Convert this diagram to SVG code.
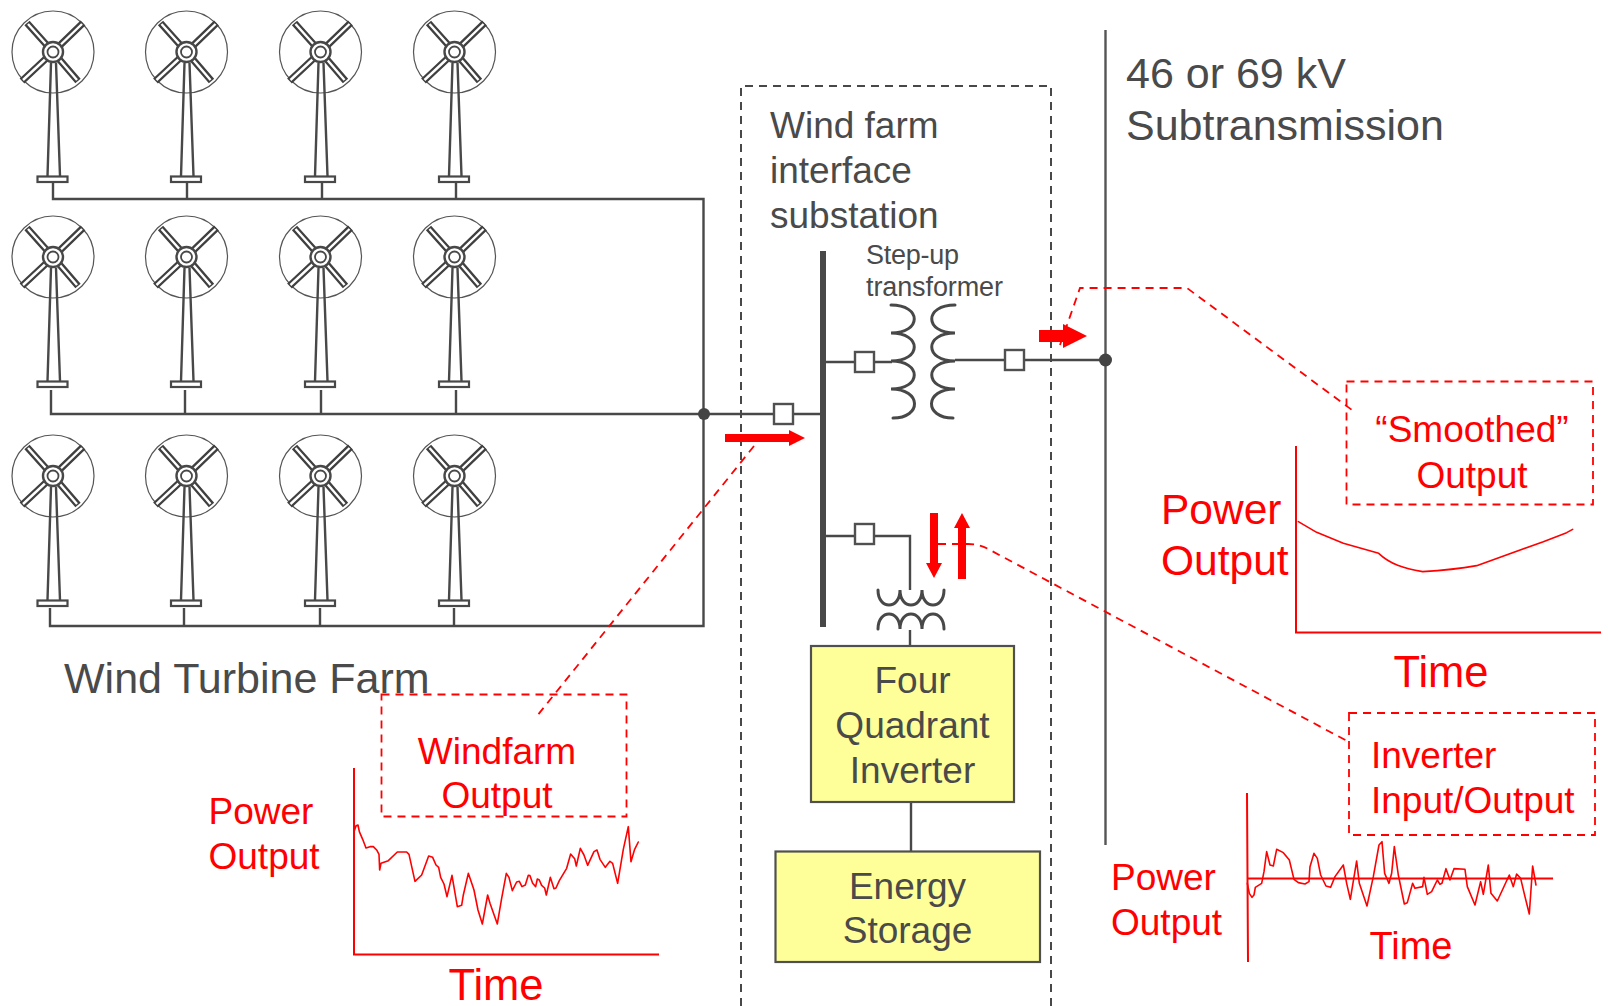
<svg xmlns="http://www.w3.org/2000/svg" width="1608" height="1006" viewBox="0 0 1608 1006">
<style>
text{font-family:"Liberation Sans",Arial,sans-serif}
.d{fill:#4a4a4a}.r{fill:#f00}
.s43{font-size:43px}.s42{font-size:42.500px}.s37{font-size:37px}.s38{font-size:38px}.s27{font-size:27px}.s44{font-size:43.500px}
.m{text-anchor:middle}
.w{fill:none;stroke:#484848;stroke-width:2.400}
.c{fill:none;stroke:#484848;stroke-width:3;stroke-linecap:round}
.b{fill:#fff;stroke:#505050;stroke-width:2.400}
.y{fill:#ffff99;stroke:#505050;stroke-width:2.200}
.rd{fill:none;stroke:#f00;stroke-width:1.800;stroke-dasharray:8 6}
.rl{fill:none;stroke:#f00;stroke-width:2}
.rs{fill:none;stroke:#f00;stroke-width:4.800;stroke-linejoin:round;stroke-linecap:round}
.ra{fill:#f00}
.bo{fill:none;stroke:#404040;stroke-width:7}
.bi{fill:none;stroke:#fff;stroke-width:2.400}
</style>
<defs>
<g id="t">
<circle cx="53" cy="52" r="41" fill="#fff" stroke="#555" stroke-width="1.200"/>
<path class="bo" d="M53 52L27 23M53 52L83 23M53 52L22 81M53 52L78 81"/>
<path class="bi" d="M28 24L53 52M82 24L53 52M23 80L53 52M77 80L53 52"/>
<circle cx="53" cy="52" r="10" fill="#fff" stroke="#484848" stroke-width="2.400"/>
<circle cx="53" cy="52" r="5.500" fill="#fff" stroke="#484848" stroke-width="1.800"/>
<path class="w" d="M51 63L47.500 176M56 63L60 176"/>
<rect x="37.500" y="176.500" width="30" height="5.500" fill="#fff" stroke="#484848" stroke-width="2.200"/>
</g>
</defs>
<g id="connectors">
<path class="w" d="M53 182V199H703.500V626H50V608M187 182V199M322 182V199M456 182V199"/>
<path class="w" d="M51 390V414H823M185 390V414M321 390V414M456 390V414"/>
<path class="w" d="M184 608V626M320 608V626M454 608V626"/>
<path class="w" d="M823 362H892"/>
<path class="w" d="M955 360H1106"/>
<path class="w" d="M823 536H910V590"/>
<path class="w" d="M910 630V646M911 802V851"/>
<path fill="none" stroke="#555" stroke-width="2.400" d="M1105.500 30V845"/>
<circle cx="704" cy="414" r="6" fill="#444"/>
<circle cx="1105.500" cy="360" r="6.500" fill="#444"/>
<path fill="none" stroke="#484848" stroke-width="2" stroke-dasharray="8 6" d="M741 1006V86H1051V1006"/>
<rect x="820" y="251" width="6" height="376" fill="#484848"/>
</g>
<g id="turbines">
<g id="turbine-1-1"><use href="#t"/></g>
<g id="turbine-1-2"><use href="#t" x="133.500"/></g>
<g id="turbine-1-3"><use href="#t" x="267.500"/></g>
<g id="turbine-1-4"><use href="#t" x="401.500"/></g>
<g id="turbine-2-1"><use href="#t" y="205"/></g>
<g id="turbine-2-2"><use href="#t" x="133.500" y="205"/></g>
<g id="turbine-2-3"><use href="#t" x="267.500" y="205"/></g>
<g id="turbine-2-4"><use href="#t" x="401.500" y="205"/></g>
<g id="turbine-3-1"><use href="#t" y="424"/></g>
<g id="turbine-3-2"><use href="#t" x="133.500" y="424"/></g>
<g id="turbine-3-3"><use href="#t" x="267.500" y="424"/></g>
<g id="turbine-3-4"><use href="#t" x="401.500" y="424"/></g>
</g>
<g id="breakers">
<rect class="b" x="774" y="404" width="19" height="20"/>
<rect class="b" x="855" y="352" width="19" height="20"/>
<rect class="b" x="1005" y="350" width="19" height="20"/>
<rect class="b" x="855" y="524" width="19" height="20"/>
</g>
<g id="step-up-transformer">
<path class="c" d="M891 305C922 305 922 333 891 333C922 333 922 361 891 361C922 361 922 389 891 389C922 389 922 418 893 418"/>
<path class="c" d="M955 305C924 305 924 333 955 333C924 333 924 361 955 361C924 361 924 389 955 389C924 389 924 418 953 418"/>
</g>
<g id="inverter-transformer">
<path class="c" d="M878 590C878 610 900 610 900 590C900 610 922 610 922 590C922 610 944 610 944 590"/>
<path class="c" d="M878 629C878 609 900 609 900 629C900 609 922 609 922 629C922 609 944 609 944 629"/>
</g>
<g id="inverter"><rect class="y" x="811" y="646" width="203" height="156"/>
<text class="d s37 m" x="912.500" y="693">Four</text><text class="d s37 m" x="912.500" y="738">Quadrant</text><text class="d s37 m" x="912.500" y="783">Inverter</text></g>
<g id="storage"><rect class="y" x="775.500" y="851.500" width="264.500" height="110.500"/>
<text class="d s37 m" x="907.500" y="899">Energy</text><text class="d s37 m" x="907.500" y="943">Storage</text></g>
<g id="labels">
<text class="d s43" x="64" y="693">Wind Turbine Farm</text>
<text class="d s43" x="1126" y="88">46 or 69 kV</text>
<text class="d s43" x="1126" y="140">Subtransmission</text>
<text class="d s37" x="770" y="138">Wind farm</text>
<text class="d s37" x="770" y="183">interface</text>
<text class="d s37" x="770" y="228">substation</text>
<text class="d s27" x="866" y="264" textLength="93">Step-up</text>
<text class="d s27" x="866" y="296" textLength="137">transformer</text>
</g>
<g id="callouts">
<path class="rd" d="M1060 345L1080 288H1187L1352 410"/>
<path class="rd" d="M938 544H968Q980 544 990 550L1349 742"/>
<path class="rd" d="M754 446L537 716"/>
<path class="ra" d="M1039 330H1063V324L1087 336L1063 348V342H1039Z"/>
<path class="ra" d="M725 434H789V430L805 438L789 446V442H725Z"/>
<path class="ra" d="M930 513H938V563H942L934 578L926 563H930Z"/>
<path class="ra" d="M958 579H966V528H970L962 513L954 528H958Z"/>
<rect class="rd" x="1346.500" y="381.500" width="246.500" height="123"/>
<rect class="rd" x="1349" y="713" width="246" height="122"/>
<rect class="rd" x="381.500" y="694.500" width="245" height="122"/>
</g>
<g id="chart-windfarm">
<path class="rl" d="M354 768V954.500H659"/>
<polyline class="rs" transform="translate(340 760) scale(.3333)" points="42,215 48,197 54,195 58,215 68,238 78,264 90,260 100,260 110,270 117,283 119,330 123,310 145,302 172,276 200,276 207,283 225,364 245,345 266,288 278,292 288,315 296,322 302,352 312,372 321,410 336,346 352,440 365,436 370,405 385,340 396,372 402,390 414,450 427,492 443,405 450,430 472,492 485,415 499,340 507,352 517,392 530,366 538,364 546,380 556,375 565,346 570,347 578,370 587,380 592,357 598,360 605,376 614,384 619,405 631,352 642,386 648,384 658,362 680,325 692,282 704,296 709,318 721,265 732,285 743,316 762,275 771,270 780,298 796,322 810,304 818,310 833,370 850,268 865,200 873,305 884,268 895,246"/>
<text class="r s37 m" x="497" y="764">Windfarm</text><text class="r s37 m" x="497" y="808">Output</text>
<text class="r s37" x="208.500" y="824">Power</text><text class="r s37" x="208.500" y="869">Output</text>
<text class="r s44 m" x="496" y="1000">Time</text>
</g>
<g id="chart-smoothed">
<path class="rl" d="M1296 446V632.500H1601"/>
<path class="rs" transform="translate(1280 500) scale(.3333)" d="M55 65L110 97L190 130L296 160C330 192 370 205 428 215C480 212 540 206 590 197L790 125L860 98L878 88"/>
<text class="r s37 m" x="1472" y="441.500">“Smoothed”</text><text class="r s37 m" x="1472" y="488">Output</text>
<text class="r s42" x="1161" y="524">Power</text><text class="r s42" x="1161" y="575">Output</text>
<text class="r s44 m" x="1441" y="687">Time</text>
</g>
<g id="chart-inverter">
<path class="rl" d="M1247 793L1248 962M1247 878.500H1553"/>
<polyline class="rs" transform="translate(1230 780) scale(.3333)" points="52,310 58,340 66,352 72,345 76,322 95,310 102,275 110,215 120,255 130,258 140,208 160,218 178,240 192,298 205,308 225,312 237,305 240,260 252,220 262,235 272,285 288,318 302,322 315,290 340,255 350,310 361,358 380,243 388,310 411,378 430,290 447,195 456,185 464,280 477,310 485,280 493,200 505,285 523,372 532,368 548,310 555,325 578,320 582,292 592,343 605,335 622,300 630,313 636,310 648,266 660,300 672,266 705,268 712,320 735,375 752,305 760,343 775,255 783,340 802,363 838,285 850,320 860,282 872,295 885,350 898,402 908,258 918,315"/>
<text class="r s37" x="1371" y="768">Inverter</text><text class="r s37" x="1371" y="813">Input/Output</text>
<text class="r s37" x="1111" y="890">Power</text><text class="r s37" x="1111" y="935">Output</text>
<text class="r s38 m" x="1411" y="959">Time</text>
</g>
</svg>
